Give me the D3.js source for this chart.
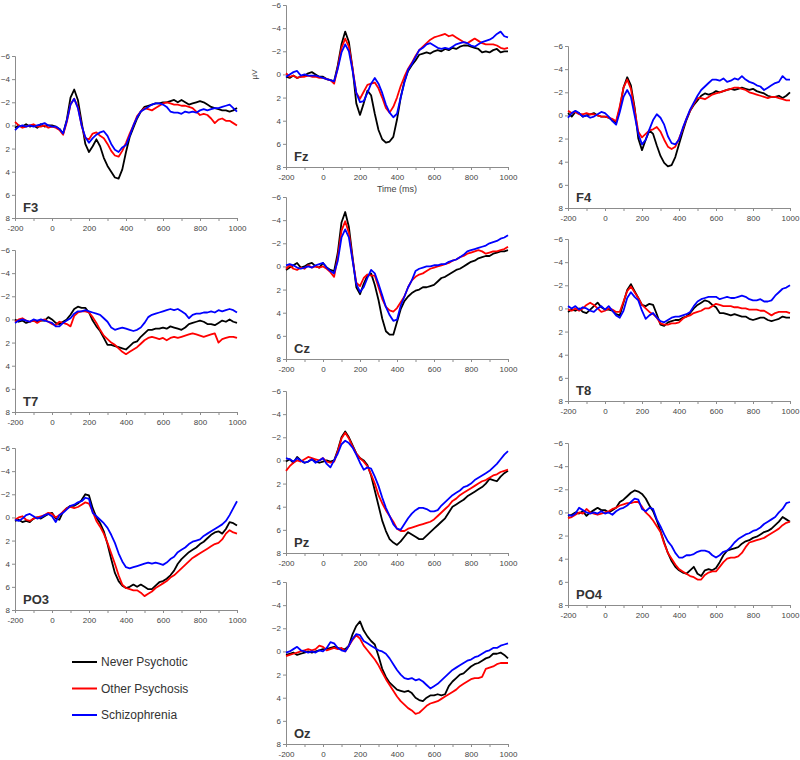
<!DOCTYPE html>
<html>
<head>
<meta charset="utf-8">
<script src="https://cdn.jsdelivr.net/npm/d3@7"></script>
<style>
  body { margin: 0; background: #fff; }
  svg { display: block; }
  text { font-family: "Liberation Sans", Arial, sans-serif; }
</style>
</head>
<body>
<svg id="chart" width="800" height="760"></svg>
<script>
// ---------------- DATA ----------------
const timeMs = d3.range(-200, 1001, 20);          // sample times (ms)
const seriesNames = ["Never Psychotic", "Other Psychosis", "Schizophrenia"];
const xTickValues = [-200, 0, 200, 400, 600, 800, 1000];
const yTickValues = [-6, -4, -2, 0, 2, 4, 6, 8];

const f3Never = [0.2,0,0.1,-0.1,0.1,0,0.2,-0.1,0.1,0,0,0.1,0.3,0.7,-0.5,-2.4,-3.1,-2.2,-0.3,1.6,2.3,1.8,1.2,1.8,2.8,3.5,4.0,4.5,4.6,3.8,2.3,1.0,0.2,-0.6,-1.2,-1.6,-1.7,-1.8,-1.9,-1.9,-2.0,-2.0,-2.1,-2.2,-2.0,-2.2,-2.0,-1.8,-1.9,-2.0,-2.1,-2.0,-1.8,-1.6,-1.5,-1.4,-1.3,-1.3,-1.2,-1.3,-1.5];
const f3Other = [-0.3,0,0.2,0.1,0,-0.1,0.1,0.1,0,0.2,0.1,0.2,0.4,0.8,-0.3,-1.8,-2.3,-1.6,0,1.1,1.2,0.7,0.6,0.9,1.1,1.6,2.2,2.6,2.7,2.2,1.5,0.7,0.0,-0.8,-1.2,-1.5,-1.4,-1.3,-1.5,-1.7,-1.9,-2.0,-1.9,-1.8,-1.8,-1.7,-1.7,-1.6,-1.5,-1.2,-0.9,-1.0,-0.9,-0.6,-0.2,-0.5,-0.6,-0.4,-0.4,-0.2,0.0];
const f3Schizo = [0.4,0.1,0,0.1,0,0.1,0,-0.1,-0.2,0,0.1,0.1,0.3,0.7,-0.4,-1.8,-2.3,-1.5,0,1.0,1.5,1.1,0.8,0.6,0.5,0.9,1.6,2.1,2.3,1.9,1.7,0.9,0.0,-0.7,-1.2,-1.4,-1.6,-1.8,-1.9,-1.9,-1.8,-1.6,-1.2,-1.1,-1.1,-1.0,-1.2,-1.1,-1.2,-1.1,-1.3,-1.4,-1.3,-1.4,-1.5,-1.5,-1.6,-1.7,-1.8,-1.5,-1.2];

const fzNever = [0.2,0.3,0.1,0.3,0.2,0.1,-0.1,-0.2,0,0.2,0.2,0.4,0.5,0.6,-0.8,-2.6,-3.7,-2.8,-0.5,2.5,3.5,2.5,1.4,1.8,3.4,4.8,5.6,5.9,5.8,5.4,3.9,2.0,0.6,-0.3,-0.8,-1.2,-1.7,-1.8,-1.9,-1.8,-2.0,-2.1,-2.0,-2.2,-2.1,-2.3,-2.2,-2.4,-2.5,-2.5,-2.4,-2.3,-2.2,-1.9,-2.0,-1.9,-2.1,-2.2,-1.9,-2.0,-2.0];
const fzOther = [-0.1,0.2,0.1,0.3,0.2,0.2,0.1,0.2,0.2,0.3,0.3,0.4,0.5,0.8,-0.6,-2.3,-3.1,-2.4,-0.5,1.6,2.1,1.5,0.9,0.8,0.7,1.2,2.0,2.9,3.3,2.8,2.0,1.0,0.2,-0.5,-1.0,-1.6,-2.1,-2.4,-2.7,-3.0,-3.2,-3.3,-3.4,-3.5,-3.3,-3.4,-3.2,-3.0,-2.8,-2.7,-2.9,-3.1,-2.9,-2.7,-2.6,-2.6,-2.6,-2.5,-2.3,-2.2,-2.3];
const fzSchizo = [0.2,0,-0.2,-0.3,0.1,0.0,0.1,0.1,0.1,0.2,0.3,0.4,0.5,0.6,-0.5,-1.9,-2.6,-2.0,-0.3,1.6,2.4,2.3,1.6,0.8,0.3,0.8,1.6,2.6,3.3,3.7,3.4,2.0,0.7,-0.4,-0.9,-1.5,-2.1,-2.3,-2.6,-2.7,-2.5,-2.3,-2.2,-2.3,-2.2,-2.4,-2.6,-2.7,-2.8,-2.7,-2.5,-2.4,-2.6,-2.8,-2.9,-3.0,-3.2,-3.5,-3.7,-3.3,-3.2];

const f4Never = [-0.2,0.1,-0.3,-0.2,0.1,0,-0.1,-0.2,0,0.1,0.1,0.2,0.4,0.6,-0.6,-2.4,-3.3,-2.6,-0.7,2.0,3.0,2.1,1.3,1.6,2.6,3.5,4.1,4.4,4.3,3.6,2.5,1.4,0.4,-0.4,-0.9,-1.3,-1.7,-1.9,-1.8,-1.9,-2.1,-2.0,-2.1,-2.2,-2.3,-2.2,-2.3,-2.4,-2.3,-2.2,-2.3,-2.1,-2.0,-1.9,-1.7,-1.6,-1.6,-1.7,-1.5,-1.7,-2.0];
const f4Other = [-0.4,-0.2,-0.3,-0.1,-0.1,-0.2,-0.1,-0.1,0,0.1,0.1,0.2,0.3,0.5,-0.8,-2.4,-3.1,-2.3,-0.5,1.4,1.9,1.6,1.3,1.2,1.0,1.4,2.1,2.7,2.9,2.7,2.0,1.2,0.3,-0.4,-1.0,-1.5,-1.5,-1.4,-1.6,-1.8,-1.9,-2.0,-2.1,-2.2,-2.3,-2.4,-2.4,-2.3,-2.2,-2.0,-1.9,-1.8,-1.7,-1.6,-1.5,-1.6,-1.6,-1.5,-1.4,-1.3,-1.3];
const f4Schizo = [0.2,-0.2,-0.4,-0.2,0.1,0,0.2,0.1,-0.1,-0.3,-0.2,0.1,0.5,0.8,-0.3,-1.6,-2.2,-1.6,0,1.6,2.5,2.1,1.2,0.4,-0.1,0.2,0.8,1.8,2.4,2.5,2.1,1.1,0.3,-0.5,-1.1,-1.7,-2.2,-2.5,-2.8,-3.1,-3.1,-3.0,-3.2,-2.9,-3.0,-3.2,-3.1,-3.4,-3.1,-2.9,-2.8,-2.6,-2.5,-2.2,-2.4,-2.6,-2.8,-2.9,-3.4,-3.1,-3.1];

const t7Never = [0,0.2,0.1,0.3,0.2,0.1,0.2,0.1,0.1,-0.2,0,0.3,0.4,0.2,0,-0.4,-0.9,-1.1,-1.0,-1.0,-0.6,0.1,0.6,1.0,1.6,2.2,2.2,2.3,2.4,2.5,2.6,2.3,2.0,1.9,1.5,1.2,0.9,0.9,0.8,0.8,0.7,0.8,0.6,0.7,0.8,0.9,0.7,0.4,0.3,0.2,0.1,0.2,0.4,0.4,0.5,0.3,0.1,0.2,0.0,0.2,0.3];
const t7Other = [0.2,0,-0.1,0.1,0.2,0.1,0.3,0.1,0,0.2,0.4,0.5,0.2,0.3,0.4,0.6,-0.3,-0.6,-0.7,-0.7,-0.6,-0.2,0.3,0.9,1.4,1.7,2.0,2.2,2.5,2.8,3.0,2.8,2.6,2.4,2.1,1.8,1.6,1.5,1.6,1.7,1.6,1.8,1.6,1.5,1.6,1.5,1.4,1.3,1.2,1.3,1.4,1.5,1.4,1.3,1.2,2.0,1.7,1.6,1.5,1.5,1.6];
const t7Schizo = [0.3,0.1,0.0,0.1,0.2,0.0,0.1,0.0,0.1,0.2,0.3,0.6,0.6,0.3,0.1,-0.1,-0.5,-0.7,-0.7,-0.8,-0.7,-0.6,-0.5,-0.4,-0.1,0.2,0.7,0.9,0.8,0.7,0.8,0.9,1.0,0.9,0.7,0.3,-0.2,-0.4,-0.5,-0.6,-0.7,-0.8,-0.9,-0.8,-0.9,-0.7,-0.5,-0.1,-0.4,-0.5,-0.5,-0.6,-0.6,-0.7,-0.6,-0.8,-0.7,-0.8,-0.9,-0.8,-0.6];

const czNever = [0.3,0.1,-0.1,-0.3,0.1,0.0,-0.2,-0.3,0,0.1,-0.3,0.1,0.3,0.4,-1.2,-3.8,-4.7,-3.4,-0.8,1.8,2.4,1.5,0.8,0.6,1.6,2.9,4.5,5.6,5.9,5.9,4.8,3.7,3.0,2.6,2.3,2.1,2.0,1.8,1.8,1.7,1.6,1.3,1.0,0.9,0.7,0.5,0.3,0.2,0.0,-0.2,-0.4,-0.5,-0.7,-0.8,-0.9,-0.9,-1.1,-1.2,-1.3,-1.3,-1.4];
const czOther = [0.2,-0.1,0.2,0.3,0.1,0.2,-0.1,0.1,0.0,0.1,0.0,0.2,0.5,0.9,-0.8,-3.1,-3.9,-2.9,-0.6,1.4,1.7,1.0,0.7,0.8,0.8,1.8,2.8,3.5,3.8,3.9,3.6,3.1,2.6,1.8,1.2,0.9,0.7,0.6,0.4,0.2,0.1,0.0,-0.1,-0.2,-0.3,-0.5,-0.6,-0.8,-0.9,-1.1,-1.2,-1.3,-1.4,-1.3,-1.1,-1.2,-1.3,-1.3,-1.4,-1.5,-1.7];
const czSchizo = [-0.1,-0.2,-0.1,0.1,0.2,0.1,0.0,0.1,-0.1,-0.2,-0.3,0.1,0.4,0.6,-0.5,-2.5,-3.2,-2.5,-0.5,1.5,2.2,1.8,1.0,0.3,0.6,1.5,2.5,3.5,4.2,4.7,4.6,3.4,2.6,1.8,1.2,0.4,0.2,0.1,0.0,0.0,-0.1,-0.1,-0.2,-0.2,-0.4,-0.5,-0.6,-0.8,-1.0,-1.3,-1.4,-1.5,-1.6,-1.7,-1.8,-2.0,-2.1,-2.2,-2.4,-2.5,-2.7];

const t8Never = [0.3,0.1,0.2,0.0,0.3,0.4,0.1,-0.2,-0.5,-0.1,0.1,0.1,0.2,0.5,0.6,-0.5,-1.6,-2.1,-1.5,-0.9,-0.3,-0.2,-0.4,-0.3,0.5,1.4,1.5,1.2,1.1,1.0,1.0,0.8,0.7,0.4,0.0,-0.3,-0.5,-0.7,-0.6,-0.3,-0.1,0.4,0.4,0.5,0.6,0.5,0.6,0.7,0.7,0.9,1.0,0.9,0.8,0.8,1.0,1.1,1.0,0.9,0.7,0.8,0.8];
const t8Other = [0.1,0.2,0.0,0.2,0.0,-0.3,-0.5,-0.3,0.0,0.3,0.2,0.0,0.1,0.3,0.3,-0.6,-1.5,-1.9,-1.4,-0.9,-0.3,0.0,0.3,0.5,0.8,1.3,1.4,1.4,1.3,1.3,1.2,0.9,0.7,0.6,0.4,0.3,0.2,0.0,0.0,-0.2,-0.4,-0.3,-0.2,-0.2,-0.2,-0.1,-0.1,0.0,0.0,0.1,0.1,0.1,0.2,0.2,0.4,0.6,0.4,0.3,0.3,0.3,0.4];
const t8Schizo = [-0.2,0.0,-0.2,0.1,-0.1,0.0,0.2,0.3,0.0,-0.2,0.1,-0.2,0.2,0.6,0.8,0.2,-0.9,-1.4,-1.0,-0.7,0.2,0.9,0.6,0.4,0.8,1.1,1.2,1.0,0.8,0.7,0.7,0.6,0.5,0.3,-0.2,-0.6,-0.8,-0.9,-1.0,-1.0,-1.0,-0.8,-0.9,-1.0,-0.9,-0.9,-1.0,-1.1,-1.0,-0.8,-0.7,-0.7,-0.8,-0.6,-0.6,-0.7,-1.1,-1.4,-1.7,-1.8,-2.0];

const po3Never = [0.3,0.2,0.4,0.3,0.4,0.1,0.0,0.1,-0.1,-0.3,-0.4,0.1,0.2,-0.5,-0.8,-1.0,-1.0,-1.2,-1.5,-2.0,-1.9,-0.8,0.0,0.5,1.2,2.3,3.6,4.8,5.5,5.9,6.1,6.0,5.8,6.0,5.8,6.0,6.2,6.2,5.9,5.6,5.5,5.3,5.0,4.6,4.0,3.6,3.3,3.0,2.8,2.6,2.3,2.1,1.8,1.5,1.3,1.2,1.4,1.0,0.4,0.5,0.7];
const po3Other = [0.2,0.0,-0.1,0.2,0.3,0.1,0.0,-0.1,-0.2,-0.4,-0.3,0.0,-0.2,-0.5,-0.8,-0.9,-0.8,-0.9,-1.1,-1.3,-1.2,-0.5,0.3,0.8,1.4,2.2,3.1,4.0,5.0,5.8,6.1,6.2,6.3,6.3,6.5,6.8,6.6,6.4,6.1,5.9,5.7,5.5,5.2,5.0,4.7,4.4,4.1,3.8,3.5,3.3,3.1,2.9,2.7,2.5,2.3,2.2,1.9,1.4,1.1,1.3,1.4];
const po3Schizo = [0.2,0.3,0.1,-0.2,-0.3,-0.1,0.1,0.0,-0.2,-0.3,-0.1,0.4,-0.2,-0.4,-0.7,-1.0,-1.1,-1.3,-1.4,-1.7,-1.6,-0.4,-0.1,0.2,0.5,0.9,1.5,2.2,3.1,3.8,4.3,4.4,4.3,4.2,4.1,4.0,3.9,4.0,3.9,4.0,4.1,3.9,3.6,3.4,3.0,2.8,2.6,2.3,2.1,2.0,1.9,1.6,1.4,1.2,1.0,0.8,0.6,0.3,-0.2,-0.8,-1.4];

const pzNever = [0.1,-0.1,0.2,-0.3,0.0,0.2,0.1,-0.1,0.1,0.2,0.1,0.0,0.1,0.0,-0.9,-2.0,-2.5,-2.0,-1.3,-0.6,-0.2,0.0,0.4,1.3,2.6,3.9,5.2,6.1,6.8,7.1,7.3,7.0,6.6,6.2,6.4,6.6,6.8,6.8,6.5,6.2,5.9,5.6,5.3,5.0,4.5,4.0,3.8,3.6,3.4,3.1,2.9,2.7,2.5,2.3,2.0,1.6,1.7,1.8,1.4,1.1,0.9];
const pzOther = [0.9,0.5,0.2,0.0,0.1,-0.1,-0.3,-0.2,-0.1,0.0,-0.2,0.1,0.2,0.1,-0.8,-1.9,-2.4,-1.9,-1.2,-0.6,-0.2,0.1,0.5,1.2,2.0,3.0,3.7,4.3,4.8,5.3,5.9,6.1,6.1,5.9,5.8,5.7,5.6,5.5,5.4,5.3,5.1,4.8,4.5,4.2,3.9,3.5,3.3,3.0,2.8,2.6,2.4,2.2,2.0,1.8,1.7,1.5,1.3,1.2,1.0,0.9,0.8];
const pzSchizo = [-0.2,-0.1,0.1,-0.2,0.0,0.2,0.1,-0.1,0.2,0.0,-0.2,0.3,0.6,0.0,-0.6,-1.4,-1.7,-1.5,-1.1,-0.5,0.2,0.8,0.6,0.7,1.4,2.2,3.2,4.1,4.8,5.5,5.9,6.0,5.5,5.0,4.6,4.3,4.1,4.1,4.2,4.4,4.4,4.3,3.9,3.6,3.3,3.0,2.8,2.6,2.3,2.2,2.0,1.7,1.5,1.3,1.1,0.9,0.6,0.3,-0.1,-0.5,-0.8];

const po4Never = [0.3,0.2,0.0,0.1,-0.1,0.3,0.0,-0.2,-0.4,-0.2,-0.2,0.0,-0.2,-0.4,-0.9,-1.1,-1.4,-1.7,-1.9,-1.8,-1.6,-1.2,-0.6,-0.1,0.7,1.6,2.6,3.5,4.2,4.7,5.0,5.2,5.3,5.0,4.7,5.3,5.5,5.0,4.9,5.0,4.8,4.3,3.7,3.3,3.2,3.1,3.0,2.7,2.5,2.4,2.2,2.1,1.9,1.7,1.6,1.4,1.1,0.8,0.4,0.6,0.8];
const po4Other = [0.5,0.4,0.2,0.0,0.1,-0.3,0.0,0.1,0.2,0.1,0.0,-0.1,-0.3,-0.4,-0.6,-0.7,-0.8,-0.8,-0.9,-0.9,-0.5,0.0,0.3,0.7,1.2,1.7,2.7,3.5,4.0,4.5,4.9,5.1,5.3,5.5,5.6,5.8,5.8,5.4,5.2,5.1,5.1,4.7,4.3,4.0,3.9,3.9,3.8,3.5,3.0,2.6,2.5,2.4,2.3,2.2,2.0,1.8,1.6,1.4,1.1,0.9,0.8];
const po4Schizo = [0.2,0.3,0.1,-0.4,-0.2,0.0,0.1,0.0,0.1,-0.1,0.1,0.0,0.2,-0.1,-0.3,-0.4,-0.6,-0.9,-1.2,-1.1,-0.3,-0.1,-0.4,-0.3,0.6,1.2,1.9,2.5,2.9,3.5,3.9,3.9,3.7,3.7,3.6,3.4,3.3,3.3,3.4,3.7,3.9,3.7,3.4,3.3,3.0,2.6,2.3,2.1,1.9,1.8,1.6,1.5,1.3,1.0,0.8,0.6,0.4,0.0,-0.3,-0.8,-0.9];

const ozNever = [0.3,0.2,0.1,0.3,0.2,0.1,0.0,0.1,0.0,-0.1,-0.2,-0.2,-0.3,-0.4,-0.3,-0.2,-0.2,-0.5,-1.5,-2.2,-2.6,-1.8,-1.3,-0.9,-0.6,0.4,1.5,2.2,2.7,3.0,3.3,3.4,3.5,3.4,3.6,4.0,4.2,4.3,4.0,3.8,3.8,3.7,3.8,3.7,3.0,2.6,2.3,2.0,1.9,1.6,1.3,1.1,1.0,0.8,0.6,0.5,0.2,0.2,0.1,0.3,0.6];
const ozOther = [0.4,0.3,0.2,0.1,0.0,-0.1,-0.2,-0.1,-0.2,-0.5,-0.4,-0.1,-0.2,-0.3,-0.2,-0.3,0.0,-0.5,-1.0,-1.4,-1.1,-0.5,-0.1,0.3,0.7,1.2,1.8,2.4,2.9,3.4,3.9,4.3,4.6,4.9,5.1,5.4,5.3,5.0,4.7,4.5,4.4,4.3,4.1,3.9,3.7,3.5,3.3,3.0,2.8,2.6,2.4,2.3,2.3,2.2,1.5,1.4,1.3,1.1,1.0,1.0,1.0];
const ozSchizo = [0.1,0.0,-0.2,-0.4,-0.1,0.0,0.1,0.0,0.1,-0.1,0.0,-0.3,-0.8,-0.7,-0.3,-0.1,0.0,-0.5,-1.1,-1.5,-1.4,-0.9,-0.7,-0.5,-0.3,-0.1,0.0,0.2,0.6,1.1,1.6,2.0,2.3,2.4,2.3,2.5,2.4,2.6,2.9,3.2,3.0,2.8,2.5,2.2,1.9,1.6,1.4,1.2,1.0,0.8,0.7,0.5,0.4,0.2,0.0,-0.1,-0.3,-0.3,-0.5,-0.6,-0.7];

const channels = [
  { name: "F3",  series: [f3Never,  f3Other,  f3Schizo]  },
  { name: "T7",  series: [t7Never,  t7Other,  t7Schizo]  },
  { name: "PO3", series: [po3Never, po3Other, po3Schizo] },
  { name: "Fz",  series: [fzNever,  fzOther,  fzSchizo]  },
  { name: "Cz",  series: [czNever,  czOther,  czSchizo]  },
  { name: "Pz",  series: [pzNever,  pzOther,  pzSchizo]  },
  { name: "Oz",  series: [ozNever,  ozOther,  ozSchizo]  },
  { name: "F4",  series: [f4Never,  f4Other,  f4Schizo]  },
  { name: "T8",  series: [t8Never,  t8Other,  t8Schizo]  },
  { name: "PO4", series: [po4Never, po4Other, po4Schizo] }
];

// ---------------- LAYOUT / STYLE ----------------
const colors = ["#000000", "#ff0000", "#0000ff"];
const panelW = 222, panelH = 162;
const layout = {
  F3: [15, 56], T7: [15, 250], PO3: [15, 448],
  Fz: [286, 5], Cz: [286, 197], Pz: [286, 391], Oz: [286, 582],
  F4: [568, 46], T8: [568, 239], PO4: [568, 443]
};

const svg = d3.select("#chart");

const x = d3.scaleLinear().domain([-200, 1000]).range([0, panelW]);
const y = d3.scaleLinear().domain([-6, 8]).range([0, panelH]);

channels.forEach(ch => {
  const [px, py] = layout[ch.name];
  const g = svg.append("g").attr("transform", `translate(${px},${py})`);

  // x axis
  const xAxis = d3.axisBottom(x)
    .tickValues(d3.range(-200, 1001, 100))
    .tickSize(3)
    .tickFormat(d => xTickValues.includes(d) ? d : "");
  const gx = g.append("g").attr("transform", `translate(0,${panelH})`).call(xAxis);

  // y axis
  const yAxis = d3.axisLeft(y).tickValues(yTickValues).tickSize(3);
  const gy = g.append("g").call(yAxis);

  [gx, gy].forEach(a => {
    a.select(".domain").attr("stroke", "#8c8c8c");
    a.selectAll(".tick line").attr("stroke", "#8c8c8c");
    a.selectAll(".tick text").attr("fill", "#444").attr("font-size", 8)
      .attr("font-family", "'Liberation Sans', Arial, sans-serif");
  });
  gx.selectAll(".tick text").attr("dy", "0.9em");
  gy.selectAll(".tick text").attr("x", -5);

  // lines
  const line = d3.line()
    .x((d, i) => x(timeMs[i]))
    .y(d => y(d))
    .curve(d3.curveLinear);
  ch.series.forEach((s, k) => {
    g.append("path").datum(s)
      .attr("fill", "none")
      .attr("stroke", colors[k])
      .attr("stroke-width", 1.8)
      .attr("stroke-linejoin", "round")
      .attr("d", line);
  });

  // channel label
  g.append("text")
    .attr("x", 8).attr("y", panelH - 6)
    .attr("font-size", 13).attr("font-weight", "bold")
    .attr("fill", "#333")
    .text(ch.name);

  if (ch.name === "Fz") {
    g.append("text")
      .attr("transform", `translate(-29,${y(0)}) rotate(-90)`)
      .attr("text-anchor", "middle")
      .attr("font-size", 8).attr("fill", "#444")
      .text("µV");
    g.append("text")
      .attr("x", panelW / 2).attr("y", panelH + 25)
      .attr("text-anchor", "middle")
      .attr("font-size", 9).attr("fill", "#444")
      .text("Time (ms)");
  }
});

// legend
const legend = svg.append("g").attr("transform", "translate(72,662)");
seriesNames.forEach((n, k) => {
  const row = legend.append("g").attr("transform", `translate(0,${k * 26.5})`);
  row.append("line").attr("x1", 0).attr("x2", 25).attr("y1", 0).attr("y2", 0)
    .attr("stroke", colors[k]).attr("stroke-width", 2);
  row.append("text").attr("x", 29).attr("y", 0).attr("dy", "0.35em")
    .attr("font-size", 12).attr("fill", "#333").text(n);
});
</script>
</body>
</html>
